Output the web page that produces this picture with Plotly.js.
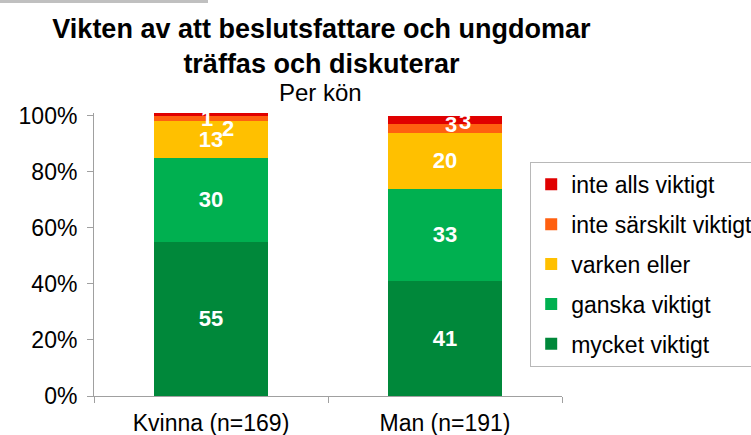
<!DOCTYPE html>
<html>
<head>
<meta charset="utf-8">
<script src="https://cdn.plot.ly/plotly-3.0.1.min.js"></script>
<style>html,body{margin:0;padding:0;background:#fff;}#chart{width:751px;height:435px;}</style>
</head>
<body>
<div id="chart"></div>
<script>
const categories = ['Kvinna (n=169)', 'Man (n=191)'];
const seriesNames = ['mycket viktigt', 'ganska viktigt', 'varken eller', 'inte särskilt viktigt', 'inte alls viktigt'];
const mycketViktigt = [55, 41];
const ganskaViktigt = [30, 33];
const varkenEller = [13, 20];
const inteSarskiltViktigt = [2, 3];
const inteAllsViktigt = [1, 3];
const yTickVals = [0, 20, 40, 60, 80, 100];
const yTickText = ['0%', '20%', '40%', '60%', '80%', '100%'];

const seriesValues = [mycketViktigt, ganskaViktigt, varkenEller, inteSarskiltViktigt, inteAllsViktigt];
const colors = ['#00883A', '#00B050', '#FFC000', '#FF6010', '#E00000'];
// small segments get labels as annotations (offset like the original), others inside the bar
const useAnnotation = [false, false, false, true, true];
// pixel offsets for annotation labels [series][category] = [xshift, yshift]
const labelShift = [null, null, null, [[17, -10], [6, 4]], [[-4, -4], [20, -1]]];

const FONT = 'Liberation Sans, Arial, sans-serif';

const traces = seriesNames.map((name, i) => ({
  type: 'bar',
  name: name,
  x: categories,
  y: seriesValues[i],
  marker: {color: colors[i], line: {width: 0}},
  text: seriesValues[i].map(String),
  textposition: useAnnotation[i] ? 'none' : 'inside',
  insidetextanchor: 'middle',
  constraintext: 'none',
  textfont: {family: FONT, size: 22, color: '#ffffff', weight: 'bold'},
  hoverinfo: 'skip',
  cliponaxis: false,
  legendgroup: 'g' + i,
  legendrank: 100 - i
}));

const annotations = [];
const cum = categories.map(() => 0);
seriesValues.forEach((vals, i) => {
  vals.forEach((v, j) => {
    const mid = cum[j] + v / 2;
    cum[j] += v;
    if (useAnnotation[i]) {
      annotations.push({
        x: categories[j], y: mid, xref: 'x', yref: 'y',
        text: String(v), showarrow: false,
        xshift: labelShift[i][j][0], yshift: labelShift[i][j][1],
        font: {family: FONT, size: 22, color: '#ffffff', weight: 'bold'}
      });
    }
  });
});
annotations.push({
  text: 'Per kön', xref: 'paper', yref: 'paper', x: 0.483, y: 1.016,
  xanchor: 'center', yanchor: 'bottom', showarrow: false,
  font: {family: FONT, size: 24, color: '#000000'}
});
// thin grey strip at the top-left edge of the original image
annotations.push({
  text: ' ', xref: 'paper', yref: 'paper', x: -0.2009, y: 1.3993,
  xanchor: 'left', yanchor: 'top', showarrow: false,
  width: 208, height: 3, borderpad: 0, borderwidth: 0,
  bgcolor: '#C0C0C0', font: {size: 1}
});

const layout = {
  width: 751, height: 435,
  margin: {l: 94, r: 189, t: 113, b: 39, pad: 0, autoexpand: false},
  paper_bgcolor: '#ffffff', plot_bgcolor: '#ffffff',
  barmode: 'stack',
  bargap: 0.51,
  showlegend: true,
  title: {
    text: '<b>Vikten av att beslutsfattare och ungdomar<br>träffas och diskuterar</b>',
    font: {family: FONT, size: 27, color: '#000000'},
    x: 0.428, xanchor: 'center', xref: 'container',
    y: 0.912, yanchor: 'top', yref: 'container'
  },
  xaxis: {
    showline: true, linecolor: '#A0A0A0', linewidth: 1,
    ticks: 'outside', tickson: 'boundaries', ticklen: 6, tickcolor: '#A0A0A0',
    tickfont: {family: FONT, size: 23, color: '#000000'},
    ticklabelstandoff: 6,
    showgrid: false, zeroline: false, fixedrange: true
  },
  yaxis: {
    range: [0, 101],
    tickvals: yTickVals, ticktext: yTickText,
    showline: true, linecolor: '#A0A0A0', linewidth: 1,
    ticks: 'outside', ticklen: 6, tickcolor: '#A0A0A0',
    tickfont: {family: FONT, size: 23, color: '#000000'},
    ticklabelstandoff: 5,
    showgrid: false, zeroline: false, fixedrange: true
  },
  legend: {
    xref: 'container', yref: 'container',
    x: 0.706, xanchor: 'left', y: 0.628, yanchor: 'top',
    traceorder: 'grouped',
    tracegroupgap: 7,
    bordercolor: '#B8B8B8', borderwidth: 1,
    bgcolor: '#ffffff',
    font: {family: FONT, size: 23, color: '#000000'},
    itemwidth: 30
  },
  annotations: annotations
};

Plotly.newPlot('chart', traces, layout, {displayModeBar: false, staticPlot: true});
</script>
</body>
</html>
